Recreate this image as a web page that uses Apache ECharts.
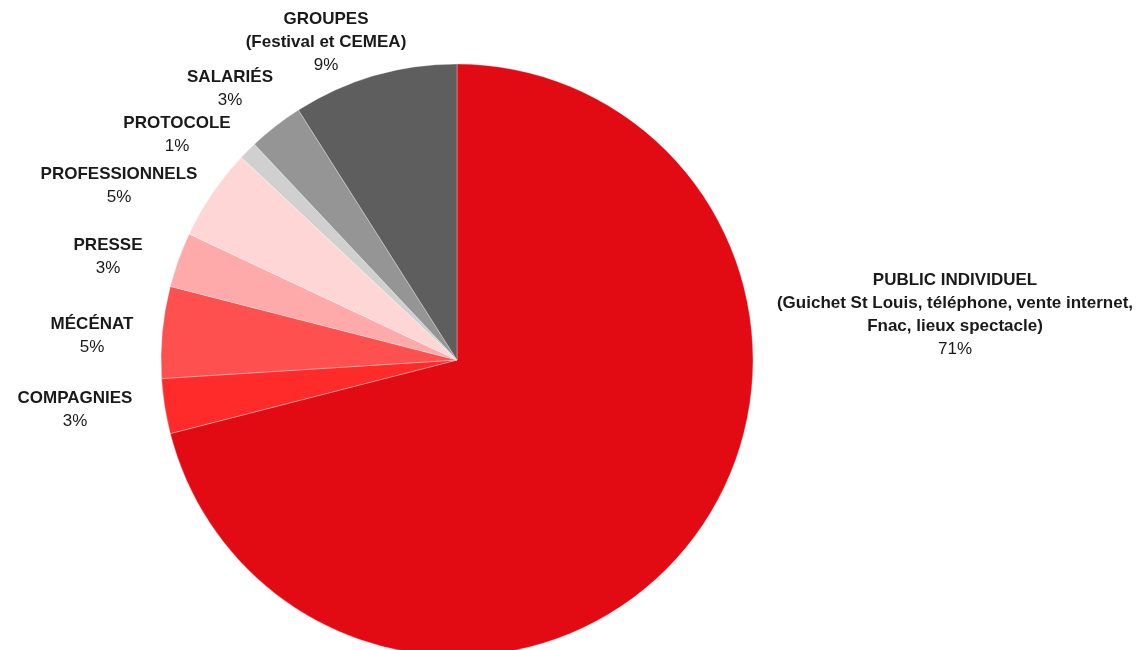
<!DOCTYPE html>
<html>
<head>
<meta charset="utf-8">
<script src="https://cdn.jsdelivr.net/npm/echarts@6/dist/echarts.min.js"></script>
<style>
  html, body { margin: 0; padding: 0; background: #fff; }
  #chart { width: 1137px; height: 650px; }
</style>
</head>
<body>
<div id="chart"></div>
<script>
  // categories, values (percent) and slice colours, clockwise from the top
  const categories = [
    'PUBLIC INDIVIDUEL\n(Guichet St Louis, téléphone, vente internet,\nFnac, lieux spectacle)',
    'COMPAGNIES',
    'MÉCÉNAT',
    'PRESSE',
    'PROFESSIONNELS',
    'PROTOCOLE',
    'SALARIÉS',
    'GROUPES\n(Festival et CEMEA)'
  ];
  const values = [71, 3, 5, 3, 5, 1, 3, 9];
  const colors = ['#e20a13', '#ff2a2a', '#ff5050', '#ffaaaa', '#ffd6d6', '#d0d0d0', '#959595', '#5e5e5e'];

  // label centres (px), roughly where the original placed them
  const labelPos = [
    [955, 315], [75, 410], [92, 336], [108, 257],
    [119, 186], [177, 135], [230, 89], [326, 42]
  ];

  const chart = echarts.init(document.getElementById('chart'));

  chart.setOption({
    animation: false,
    textStyle: { fontFamily: 'Liberation Sans, Arial, sans-serif' },
    series: [{
      type: 'pie',
      center: [457, 360],
      radius: [0, 296],
      startAngle: 90,
      clockwise: true,
      avoidLabelOverlap: false,
      data: categories.map((c, i) => ({
        name: c,
        value: values[i],
        itemStyle: { color: colors[i] }
      })),
      itemStyle: { borderColor: 'rgba(255,255,255,0.6)', borderWidth: 0.5 },
      label: {
        show: true,
        position: 'outside',
        align: 'center',
        formatter: p => '{b|' + p.name.split('\n').join('}\n{b|') + '}\n{p|' + p.value + '%}',
        rich: {
          b: { fontSize: 17, fontWeight: 'bold', color: '#1a1a1a', lineHeight: 23, align: 'center',
               fontFamily: 'Liberation Sans, Arial, sans-serif' },
          p: { fontSize: 17, color: '#1a1a1a', lineHeight: 23, align: 'center',
               fontFamily: 'Liberation Sans, Arial, sans-serif' }
        }
      },
      labelLine: { show: false },
      labelLayout: params => ({
        x: labelPos[params.dataIndex][0],
        y: labelPos[params.dataIndex][1],
        align: 'center',
        verticalAlign: 'middle'
      })
    }]
  });
</script>
</body>
</html>
